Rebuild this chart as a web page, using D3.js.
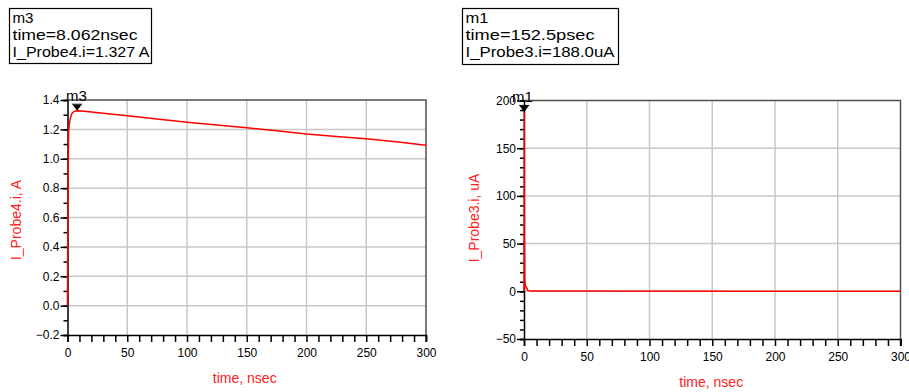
<!DOCTYPE html>
<html><head><meta charset="utf-8">
<script src="https://cdn.jsdelivr.net/npm/d3@7"></script>
<style>
body{margin:0;background:#fff;}
svg{display:block;}
text{font-family:"Liberation Sans Narrow","Liberation Sans",Arial,sans-serif;}
</style></head>
<body><svg id="c" width="909" height="392"></svg>
<script>
// ---- data ----
const xTicks = [0, 50, 100, 150, 200, 250, 300];
const leftYTicks = [-0.2, 0.0, 0.2, 0.4, 0.6, 0.8, 1.0, 1.2, 1.4];
const rightYTicks = [-50, 0, 50, 100, 150, 200];
const leftTime = [0, 0.15, 0.3, 0.5, 0.8, 1, 1.5, 2, 3, 4, 6, 8.062, 12, 20, 30, 50, 75, 100, 125, 150, 175, 200, 225, 250, 275, 300];
const leftCurrent = [0, 0.35, 0.55, 0.85, 1.1, 1.19, 1.23, 1.26, 1.295, 1.312, 1.324, 1.327, 1.325, 1.318, 1.31, 1.292, 1.27, 1.248, 1.23, 1.211, 1.19, 1.168, 1.152, 1.136, 1.115, 1.092];
const rightTime = [0, 0.1525, 0.3, 0.6, 1, 2, 3, 5, 300];
const rightCurrent = [0, 188, 60, 12, 6, 4, 1, 0.2, 0];
const leftMarker = {name: "m3", t: 8.062, v: 1.327, lines: ["m3", "time=8.062nsec", "I_Probe4.i=1.327 A"]};
const rightMarker = {name: "m1", t: 0.1525, v: 188.0, lines: ["m1", "time=152.5psec", "I_Probe3.i=188.0uA"]};

const svg = d3.select("#c");

function panel(cfg) {
  const g = svg.append("g");
  const x = d3.scaleLinear().domain([0, 300]).range([cfg.x0, cfg.x1]);
  const y = d3.scaleLinear().domain(cfg.yDomain).range([cfg.y1, cfg.y0]);

  // grid
  g.selectAll(".vg").data(xTicks.slice(1, -1)).join("line")
    .attr("x1", d => x(d)).attr("x2", d => x(d)).attr("y1", cfg.y0).attr("y2", cfg.y1)
    .attr("stroke", "#c8c8c8").attr("stroke-width", 1.5);
  g.selectAll(".hg").data(cfg.yTicks.slice(1, -1)).join("line")
    .attr("x1", cfg.x0).attr("x2", cfg.x1).attr("y1", d => y(d)).attr("y2", d => y(d))
    .attr("stroke", "#c8c8c8").attr("stroke-width", 1.5);

  // top/right border
  g.append("path").attr("d", `M${cfg.x0},${cfg.y0}H${cfg.x1}V${cfg.y1 + 7}`)
    .attr("fill", "none").attr("stroke", "#505050").attr("stroke-width", 1.5);

  // x axis
  const xMinor = d3.range(0, 301, 10);
  const xa = g.append("g").attr("transform", `translate(0,${cfg.y1})`)
    .call(d3.axisBottom(x).tickValues(xMinor).tickSize(7).tickFormat(d => xTicks.includes(d) ? d : ""));
  xa.select(".domain").attr("stroke", "#000").attr("stroke-width", 1.5);
  xa.selectAll(".tick line").attr("stroke", "#000").attr("stroke-width", 1.5);
  xa.selectAll(".tick text").attr("font-size", 12).attr("fill", "#000").attr("y", 13);

  // y axis
  const ya = g.append("g").attr("transform", `translate(${cfg.x0},0)`)
    .call(d3.axisLeft(y).tickValues(cfg.yMinor).tickSizeOuter(0)
      .tickSize(4).tickFormat(""));
  ya.select(".domain").attr("stroke", "#000").attr("stroke-width", 1.5);
  ya.selectAll(".tick line").attr("stroke", "#000").attr("stroke-width", 1.5);
  const yb = g.append("g").attr("transform", `translate(${cfg.x0},0)`)
    .call(d3.axisLeft(y).tickValues(cfg.yTicks).tickSizeOuter(0).tickSize(7).tickPadding(1).tickFormat(cfg.fmt));
  yb.select(".domain").remove();
  yb.selectAll(".tick line").attr("stroke", "#000").attr("stroke-width", 1.5);
  yb.selectAll(".tick text").attr("font-size", 12).attr("fill", "#000");

  // curve
  const line = d3.line().x(d => x(d[0])).y(d => y(d[1]));
  g.append("path").datum(d3.zip(cfg.t, cfg.v)).attr("d", line)
    .attr("fill", "none").attr("stroke", "#ff0000").attr("stroke-width", 1.5);

  // axis labels
  g.append("text").attr("x", (cfg.x0 + cfg.x1) / 2 + cfg.xlOff).attr("y", cfg.xlY)
    .attr("text-anchor", "middle").attr("font-size", 14).attr("fill", "#ff2020")
    .style("font-family", "'Liberation Sans',Arial,sans-serif").text("time, nsec");
  g.append("text").attr("transform", `translate(${cfg.ylX},${cfg.ylY}) rotate(-90)`)
    .attr("text-anchor", "middle").attr("font-size", 14).attr("fill", "#ff2020")
    .style("font-family", "'Liberation Sans',Arial,sans-serif").text(cfg.ylabel);

  // marker
  const m = cfg.marker;
  const mx = x(m.t), my = y(m.v);
  g.append("path").attr("d", `M${mx - 4.5},${my - 6}H${mx + 4.5}L${mx},${my}Z`).attr("fill", "#000");
  g.append("line").attr("x1", mx - 5).attr("x2", mx + 5).attr("y1", my - 6.5).attr("y2", my - 6.5)
    .attr("stroke", "#000").attr("stroke-width", 1);
  g.append("text").attr("x", cfg.mlX).attr("y", cfg.y0 + 1).attr("font-size", 15).attr("fill", "#000")
    .style("font-family", "'Liberation Sans',Arial,sans-serif").text(m.name);

  // readout box
  const b = cfg.box;
  g.append("rect").attr("x", b.x).attr("y", b.y).attr("width", b.w).attr("height", b.h)
    .attr("fill", "#fff").attr("stroke", "#000").attr("stroke-width", 1.2);
  m.lines.forEach((s, i) => {
    g.append("text").attr("x", b.x + 3).attr("y", b.y + 14.5 + i * 17)
      .attr("font-size", 15).attr("fill", "#000")
      .attr("textLength", b.widths[i]).attr("lengthAdjust", "spacingAndGlyphs")
      .style("font-family", "'Liberation Sans',Arial,sans-serif").text(s);
  });
}

panel({
  x0: 67.5, x1: 426, y0: 100, y1: 335, yDomain: [-0.2, 1.4],
  yTicks: leftYTicks, yMinor: d3.range(-2, 15).map(d => d / 10), fmt: d3.format(".1f"),
  t: leftTime, v: leftCurrent, ylabel: "I_Probe4.i, A",
  xlY: 383, xlOff: -2, ylX: 21, ylY: 220, mlX: 66,
  marker: leftMarker,
  box: {x: 9.5, y: 8.5, w: 142, h: 55, widths: [21, 125, 137]}
});
panel({
  x0: 524, x1: 900.5, y0: 100.5, y1: 339, yDomain: [-50, 200],
  yTicks: rightYTicks, yMinor: d3.range(-50, 201, 10), fmt: d3.format("d"),
  t: rightTime, v: rightCurrent, ylabel: "I_Probe3.i, uA",
  xlY: 387, xlOff: -1, ylX: 479, ylY: 218, mlX: 512,
  marker: rightMarker,
  box: {x: 462.5, y: 8.5, w: 156, h: 56, widths: [23, 129, 149]}
});
</script></body></html>
